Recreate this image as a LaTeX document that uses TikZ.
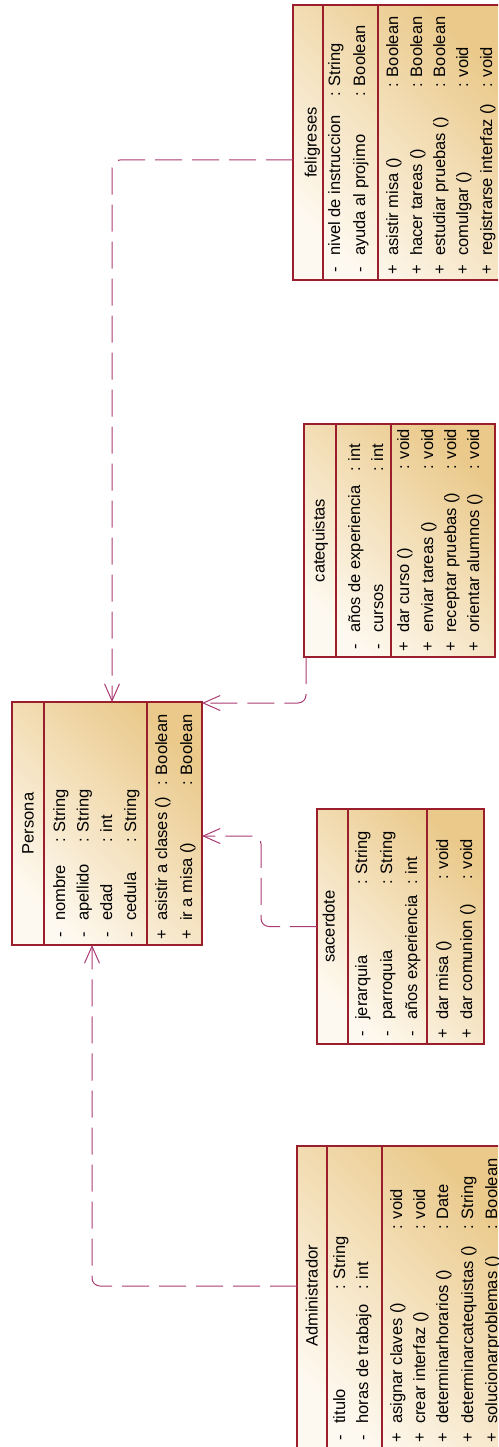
\documentclass[tikz,border=0pt]{standalone}
\usepackage{fontspec}
\setmainfont{Liberation Sans}
\usetikzlibrary{arrows.meta}
\definecolor{boxline}{RGB}{155,30,45}
\definecolor{conn}{RGB}{170,60,115}
\definecolor{lightfill}{RGB}{254,249,240}
\definecolor{darkfill}{RGB}{234,201,138}
\newcommand{\umlrow}[4]{\makebox[10pt][c]{#1}\hspace{9pt}\makebox[#2][l]{#3}: #4}
\tikzset{
  classbox/.style={draw=boxline, line width=1.5pt, top color=darkfill, bottom color=lightfill, shading angle=-45, inner sep=0pt, outer sep=0pt, rectangle},
  divider/.style={draw=boxline, line width=1.5pt},
  txt/.style={rotate=90, anchor=base west, inner sep=0pt, font=\fontsize{16.5}{19}\selectfont},
  ttl/.style={rotate=90, anchor=base, inner sep=0pt, font=\fontsize{16.5}{19}\selectfont},
  dep/.style={draw=conn, line width=1pt, dash pattern=on 27pt off 10pt, rounded corners=8pt, -{Straight Barb[length=17pt,width=15pt]}},
}
\begin{document}
\begin{tikzpicture}[x=1pt,y=-1pt]
\useasboundingbox (0,0) rectangle (498,1447);
\fill[white] (0,0) rectangle (498,1447);
\clip (0,0) rectangle (498,1447);

% ---------- Persona ----------
\node[classbox, minimum width=190pt, minimum height=243pt] (persona) at (107,823.5) {};
\draw[divider] ([xshift=32pt]persona.north west) -- ([xshift=32pt]persona.south west);
\draw[divider] ([xshift=135pt]persona.north west) -- ([xshift=135pt]persona.south west);
\node[ttl] (persona-t) at (33.5,823.5) {Persona};
\node[txt] (persona-a1) at (65,940) {\umlrow{-}{78pt}{nombre}{String}};
\node[txt] (persona-a2) at (88.5,940) {\umlrow{-}{78pt}{apellido}{String}};
\node[txt] (persona-a3) at (112,940) {\umlrow{-}{78pt}{edad}{int}};
\node[txt] (persona-a4) at (136,940) {\umlrow{-}{78pt}{cedula}{String}};
\node[txt] (persona-m1) at (167,940) {\umlrow{+}{135pt}{asistir a clases ()}{Boolean}};
\node[txt] (persona-m2) at (192,940) {\umlrow{+}{135pt}{ir a misa ()}{Boolean}};

% ---------- feligreses ----------
\node[classbox, minimum width=210pt, minimum height=275pt] (fel) at (398,142.5) {};
\draw[divider] ([xshift=30pt]fel.north west) -- ([xshift=30pt]fel.south west);
\draw[divider] ([xshift=85pt]fel.north west) -- ([xshift=85pt]fel.south west);
\node[ttl] (fel-t) at (316.5,142.5) {feligreses};
\node[txt] (fel-a1) at (340,275) {\umlrow{-}{159pt}{nivel de instruccion}{String}};
\node[txt] (fel-a2) at (365,275) {\umlrow{-}{159pt}{ayuda al projimo}{Boolean}};
\node[txt] (fel-m1) at (398,275) {\umlrow{+}{168pt}{asistir misa ()}{Boolean}};
\node[txt] (fel-m2) at (422,275) {\umlrow{+}{168pt}{hacer tareas ()}{Boolean}};
\node[txt] (fel-m3) at (445,275) {\umlrow{+}{168pt}{estudiar pruebas ()}{Boolean}};
\node[txt] (fel-m4) at (468,275) {\umlrow{+}{168pt}{comulgar ()}{void}};
\node[txt] (fel-m5) at (492,275) {\umlrow{+}{168pt}{registrarse interfaz ()}{void}};

% ---------- catequistas ----------
\node[classbox, minimum width=191pt, minimum height=233pt] (cat) at (399.5,540.5) {};
\draw[divider] ([xshift=32pt]cat.north west) -- ([xshift=32pt]cat.south west);
\draw[divider] ([xshift=87pt]cat.north west) -- ([xshift=87pt]cat.south west);
\node[ttl] (cat-t) at (324.5,540.5) {catequistas};
\node[txt] (cat-a1) at (360,652) {\umlrow{-}{161pt}{años de experiencia}{int}};
\node[txt] (cat-a2) at (383,652) {\umlrow{-}{161pt}{cursos}{int}};
\node[txt] (cat-m1) at (409,652) {\umlrow{+}{163pt}{dar curso ()}{void}};
\node[txt] (cat-m2) at (433,652) {\umlrow{+}{163pt}{enviar tareas ()}{void}};
\node[txt] (cat-m3) at (456,652) {\umlrow{+}{163pt}{receptar pruebas ()}{void}};
\node[txt] (cat-m4) at (479,652) {\umlrow{+}{163pt}{orientar alumnos ()}{void}};

% ---------- sacerdote ----------
\node[classbox, minimum width=167pt, minimum height=235pt] (sac) at (400.5,926.5) {};
\draw[divider] ([xshift=31pt]sac.north west) -- ([xshift=31pt]sac.south west);
\draw[divider] ([xshift=110pt]sac.north west) -- ([xshift=110pt]sac.south west);
\node[ttl] (sac-t) at (334.5,926.5) {sacerdote};
\node[txt] (sac-a1) at (367,1039) {\umlrow{-}{135pt}{jerarquia}{String}};
\node[txt] (sac-a2) at (392,1039) {\umlrow{-}{135pt}{parroquia}{String}};
\node[txt] (sac-a3) at (417,1039) {\umlrow{-}{135pt}{años experiencia}{int}};
\node[txt] (sac-m1) at (448,1039) {\umlrow{+}{140pt}{dar misa ()}{void}};
\node[txt] (sac-m2) at (472,1039) {\umlrow{+}{140pt}{dar comunion ()}{void}};

% ---------- Administrador ----------
\node[classbox, minimum width=211pt, minimum height=302pt] (adm) at (402.5,1297) {};
\draw[divider] ([xshift=30pt]adm.north west) -- ([xshift=30pt]adm.south west);
\draw[divider] ([xshift=85pt]adm.north west) -- ([xshift=85pt]adm.south west);
\node[ttl] (adm-t) at (317.5,1296) {Administrador};
\node[txt] (adm-a1) at (345,1443) {\umlrow{-}{134pt}{titulo}{String}};
\node[txt] (adm-a2) at (368,1443) {\umlrow{-}{134pt}{horas de trabajo}{int}};
\node[txt] (adm-m1) at (402,1443) {\umlrow{+}{194pt}{asignar claves ()}{void}};
\node[txt] (adm-m2) at (425,1443) {\umlrow{+}{194pt}{crear interfaz ()}{void}};
\node[txt] (adm-m3) at (448,1443) {\umlrow{+}{194pt}{determinarhorarios ()}{Date}};
\node[txt] (adm-m4) at (473,1443) {\umlrow{+}{194pt}{determinarcatequistas ()}{String}};
\node[txt] (adm-m5) at (497,1443) {\umlrow{+}{194pt}{solucionarproblemas ()}{Boolean}};

% ---------- connectors ----------
\draw[dep] ([yshift=-17.5pt]fel.west) -| ([xshift=5pt]persona.north);
\draw[dep] ([xshift=2pt]cat.south west) |- ([yshift=-1pt]persona.north east);
\draw[dep] (sac.west) -- ++(-56,0) |- ([yshift=-12.5pt]persona.east);
\draw[dep] ([yshift=11pt]adm.west) -| ([xshift=-15pt]persona.south);
\end{tikzpicture}
\end{document}
